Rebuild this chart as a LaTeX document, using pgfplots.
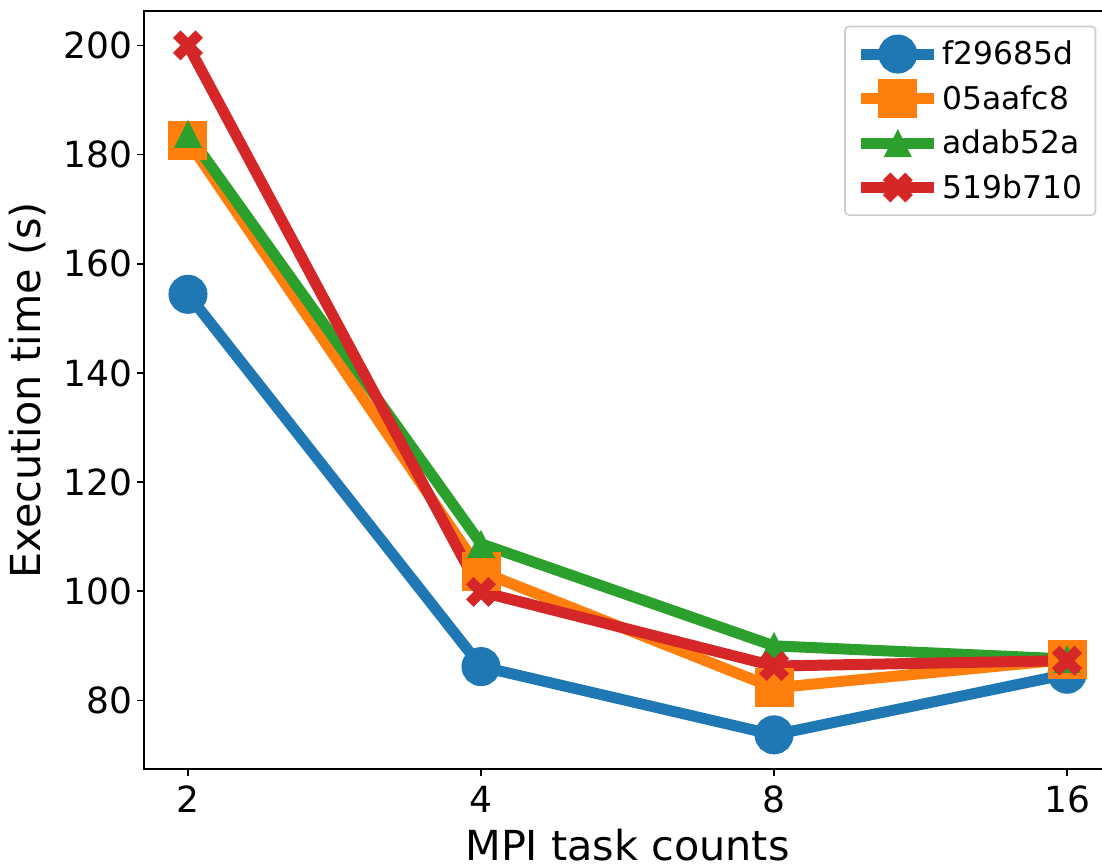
\documentclass[border=0pt]{standalone}
\usepackage{pgfplots}
\pgfplotsset{compat=1.18}
\usepackage{fontspec}
\setmainfont{DejaVu Sans}

\definecolor{tabblue}{HTML}{1F77B4}
\definecolor{taborange}{HTML}{FF7F0E}
\definecolor{tabgreen}{HTML}{2CA02C}
\definecolor{tabred}{HTML}{D62728}

% matplotlib style triangle (^) and filled X
\pgfdeclareplotmark{mtri}{%
  \pgfpathmoveto{\pgfpoint{0pt}{\pgfplotmarksize}}%
  \pgfpathlineto{\pgfpoint{-\pgfplotmarksize}{-\pgfplotmarksize}}%
  \pgfpathlineto{\pgfpoint{\pgfplotmarksize}{-\pgfplotmarksize}}%
  \pgfpathclose\pgfusepathqfill}
\pgfdeclareplotmark{Xfill}{%
  \pgfpathmoveto{\pgfpoint{0pt}{0.4714\pgfplotmarksize}}%
  \pgfpathlineto{\pgfpoint{-0.4714\pgfplotmarksize}{0.9428\pgfplotmarksize}}%
  \pgfpathlineto{\pgfpoint{-0.9428\pgfplotmarksize}{0.4714\pgfplotmarksize}}%
  \pgfpathlineto{\pgfpoint{-0.4714\pgfplotmarksize}{0pt}}%
  \pgfpathlineto{\pgfpoint{-0.9428\pgfplotmarksize}{-0.4714\pgfplotmarksize}}%
  \pgfpathlineto{\pgfpoint{-0.4714\pgfplotmarksize}{-0.9428\pgfplotmarksize}}%
  \pgfpathlineto{\pgfpoint{0pt}{-0.4714\pgfplotmarksize}}%
  \pgfpathlineto{\pgfpoint{0.4714\pgfplotmarksize}{-0.9428\pgfplotmarksize}}%
  \pgfpathlineto{\pgfpoint{0.9428\pgfplotmarksize}{-0.4714\pgfplotmarksize}}%
  \pgfpathlineto{\pgfpoint{0.4714\pgfplotmarksize}{0pt}}%
  \pgfpathlineto{\pgfpoint{0.9428\pgfplotmarksize}{0.4714\pgfplotmarksize}}%
  \pgfpathlineto{\pgfpoint{0.4714\pgfplotmarksize}{0.9428\pgfplotmarksize}}%
  \pgfpathclose\pgfusepathqfill}

\begin{document}
\begin{tikzpicture}
\begin{axis}[
  width=725pt, height=568.5pt, scale only axis,
  xmin=0.85, xmax=4.15, ymin=67.4, ymax=206.3,
  xtick={1,2,3,4}, xticklabels={2,4,8,16},
  ytick={80,100,...,200},
  tick align=outside, tick pos=left,
  major tick length=5pt,
  tick style={black, line width=1.2pt},
  axis line style={line width=1.8pt},
  /pgf/number format/assume math mode=true,
  ticklabel style={font=\fontsize{27}{32}\selectfont},
  xticklabel style={yshift=-4pt},
  xlabel={MPI task counts}, ylabel={Execution time (s)},
  label style={font=\fontsize{31}{37}\selectfont},
  xlabel style={at={(rel axis cs:0.5,0)}, anchor=north, yshift=-45pt, inner sep=0pt},
  ylabel style={at={(rel axis cs:0,0.5)}, anchor=south, yshift=73pt, inner sep=0pt},
  every axis plot/.append style={line width=8.25pt},
  legend style={at={(rel axis cs:1,1)}, anchor=north east, xshift=-11pt, yshift=-11pt,
    draw=black!20, line width=1.2pt, rounded corners=3pt, fill=white,
    font=\fontsize{23.5}{28}\selectfont, row sep=10pt, inner xsep=8pt, inner ysep=9pt},
  legend cell align=left,
  legend image code/.code={%
    \draw[mark repeat=2, mark phase=2] plot coordinates {(0pt,0pt) (27.5pt,0pt) (55pt,0pt)};},
]
\addplot[color=tabblue, mark=*, mark size=10.5pt] coordinates {(1,154.4) (2,86.2) (3,73.7) (4,84.8)};
\addlegendentry{f29685d}
\addplot[color=taborange, mark=square*, mark size=10.5pt] coordinates {(1,182.5) (2,103.6) (3,82.3) (4,87.5)};
\addlegendentry{05aafc8}
\addplot[color=tabgreen, mark=mtri, mark size=10.5pt] coordinates {(1,183.8) (2,108.7) (3,90.0) (4,87.6)};
\addlegendentry{adab52a}
\addplot[color=tabred, mark=Xfill, mark size=11.9pt] coordinates {(1,200.0) (2,99.9) (3,86.3) (4,87.3)};
\addlegendentry{519b710}
\coordinate (TR) at (rel axis cs:0.9907,1);
\end{axis}
\pgfresetboundingbox
\path[use as bounding box] ([xshift=-108pt,yshift=-72pt]current axis.south west) rectangle ([yshift=8.25pt]TR);
\end{tikzpicture}
\end{document}
